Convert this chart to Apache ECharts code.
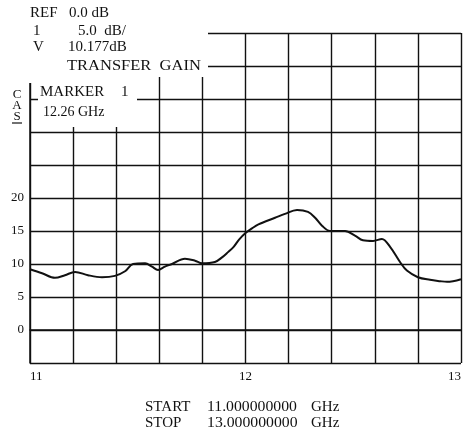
<!DOCTYPE html>
<html>
<head>
    <meta charset="utf-8">
    <title>transfer gain</title>
    <style>
        html, body { margin: 0; padding: 0; background: #fff; }
        #main { width: 473px; height: 434px; }
    </style>
</head>
<body>
<div id="main"></div>
<script src="https://cdn.jsdelivr.net/npm/echarts@6/dist/echarts.min.js"></script>
<script>
    // trace (GHz, dB)
    var freqGHz = [11.000, 11.056, 11.116, 11.162, 11.209, 11.269, 11.334, 11.394, 11.441, 11.478,
        11.534, 11.566, 11.594, 11.626, 11.659, 11.719, 11.766, 11.798, 11.858, 11.891,
        11.919, 11.945, 11.970, 12.000, 12.030, 12.060, 12.137, 12.183, 12.239, 12.290, 12.323,
        12.355, 12.392, 12.462, 12.508, 12.545, 12.592, 12.633, 12.671, 12.717, 12.749,
        12.800, 12.856, 12.903, 12.935, 13.000];
    var gainDb = [9.2, 8.6, 7.9, 8.3, 8.8, 8.3, 8.0, 8.2, 8.9, 10.0,
        10.1, 9.6, 9.1, 9.6, 10.0, 10.8, 10.5, 10.1, 10.3, 11.0,
        11.8, 12.6, 13.7, 14.7, 15.4, 16.0, 17.0, 17.6, 18.2, 17.9, 17.0,
        15.8, 15.0, 15.0, 14.3, 13.6, 13.5, 13.8, 12.6, 10.3, 9.0,
        8.0, 7.6, 7.4, 7.3, 7.7];

    var xTickLabels = [11, 12, 13];
    var yTickLabels = [0, 5, 10, 15, 20];

    var headerLines = [
        ['REF', '0.0 dB'],
        ['1', '5.0  dB/'],
        ['V', '10.177dB']
    ];
    var footerLines = [
        ['START', '11.000000000', 'GHz'],
        ['STOP', '13.000000000', 'GHz']
    ];

    var INK = '#111';
    var SERIF = '"Liberation Serif", "DejaVu Serif", serif';

    var txt = function (s, x, y, size, extra) {
        var el = {
            type: 'text', x: x, y: y, z: 12,
            style: {
                text: s, fill: INK, font: size + 'px ' + SERIF,
                textVerticalAlign: 'middle'
            }
        };
        if (extra) {
            for (var k in extra) el[k] = extra[k];
        }
        return el;
    };

    var graphics = [
        // paper left blank where the header is printed over the graticule
        {type: 'rect', z: 10, shape: {x: 0, y: 0, width: 208, height: 77}, style: {fill: '#fff'}},
        {type: 'rect', z: 10, shape: {x: 38, y: 77, width: 99, height: 50}, style: {fill: '#fff'}},
        {type: 'rect', z: 10, shape: {x: 0, y: 77, width: 29, height: 60}, style: {fill: '#fff'}},
        {type: 'rect', z: 10, shape: {x: 28, y: 77, width: 4, height: 6}, style: {fill: '#fff'}}
    ];

    var hx = [[30, 69], [33, 78], [33, 68]];
    var hy = [13, 31, 47];
    for (var i = 0; i < headerLines.length; i++) {
        graphics.push(txt(headerLines[i][0], hx[i][0], hy[i], 15));
        graphics.push(txt(headerLines[i][1], hx[i][1], hy[i], 15));
    }
    graphics.push(txt('TRANSFER  GAIN', 67, 66, 15, {scaleX: 1.1}));
    graphics.push(txt('MARKER', 40, 92, 15));
    graphics.push(txt('1', 121, 92, 15));
    graphics.push(txt('12.26 GHz', 43, 112, 14));
    var cas = ['C', 'A', 'S'];
    for (var j = 0; j < cas.length; j++) {
        var el = txt(cas[j], 17, 95 + j * 11, 13);
        el.style.textAlign = 'center';
        graphics.push(el);
    }
    graphics.push({type: 'line', z: 12, shape: {x1: 12, y1: 123, x2: 22, y2: 123},
        style: {stroke: INK, lineWidth: 1.2}});

    var fx = [145, 207, 311];
    for (var f = 0; f < footerLines.length; f++) {
        var fy = 407 + f * 16;
        graphics.push(txt(footerLines[f][0], fx[0], fy, 15));
        graphics.push(txt(footerLines[f][1], fx[1], fy, 15, {scaleX: 1.05}));
        graphics.push(txt(footerLines[f][2], fx[2], fy, 15));
    }

    var isLabel = function (list, v) {
        for (var i = 0; i < list.length; i++) {
            if (Math.abs(list[i] - v) < 1e-6) return true;
        }
        return false;
    };

    var data = [];
    for (var n = 0; n < freqGHz.length; n++) data.push([freqGHz[n], gainDb[n]]);

    var myChart = echarts.init(document.getElementById('main'));
    myChart.setOption({
        backgroundColor: '#fff',
        animation: false,
        grid: {left: 30, right: 12, top: 33, bottom: 71, containLabel: false},
        xAxis: {
            type: 'value', min: 11, max: 13, interval: 0.2,
            axisLine: {show: true, lineStyle: {color: INK, width: 1.5}},
            axisTick: {show: false},
            splitLine: {show: true, lineStyle: {color: INK, width: 1.4}},
            axisLabel: {
                margin: 7, color: INK, fontFamily: SERIF, fontSize: 13,
                alignMinLabel: 'left', alignMaxLabel: 'right',
                formatter: function (v) { return isLabel(xTickLabels, v) ? String(Math.round(v)) : ''; }
            }
        },
        yAxis: {
            type: 'value', min: -5, max: 45, interval: 5,
            axisLine: {show: true, lineStyle: {color: INK, width: 1.5}},
            axisTick: {show: false},
            splitLine: {show: true, lineStyle: {color: INK, width: 1.4}},
            axisLabel: {
                margin: 6, color: INK, fontFamily: SERIF, fontSize: 13,
                formatter: function (v) { return isLabel(yTickLabels, v) ? String(v) : ''; }
            }
        },
        series: [{
            type: 'line',
            data: data,
            smooth: 0.35,
            showSymbol: false,
            lineStyle: {color: INK, width: 2}
        }],
        graphic: graphics
    });
</script>
</body>
</html>
